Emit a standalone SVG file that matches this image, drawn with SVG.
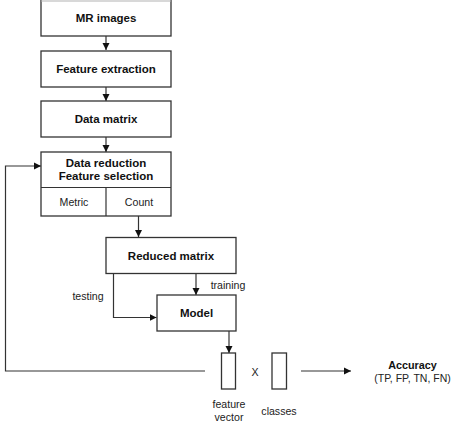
<svg xmlns="http://www.w3.org/2000/svg" width="474" height="423" viewBox="0 0 474 423">
<defs>
<style>
.box{fill:#fff;stroke:#333;stroke-width:1.3}
.ln{fill:none;stroke:#333;stroke-width:1.2}
.b{font-family:"Liberation Sans",Arial,Helvetica,sans-serif;font-weight:bold;font-size:11.5px;fill:#111;text-anchor:middle}
.n{font-family:"Liberation Sans",Arial,Helvetica,sans-serif;font-size:10.6px;fill:#222;text-anchor:middle}
</style>
<marker id="ah" markerWidth="8" markerHeight="8" refX="7" refY="4" orient="auto" markerUnits="userSpaceOnUse">
<path d="M0,0.5 L7,4 L0,7.5 Z" fill="#111"/>
</marker>
</defs>
<rect width="474" height="423" fill="#fff"/>
<g id="connectors">
<line class="ln" x1="106" y1="36" x2="106" y2="50" marker-end="url(#ah)"/>
<line class="ln" x1="106" y1="87" x2="106" y2="101" marker-end="url(#ah)"/>
<line class="ln" x1="106" y1="137" x2="106" y2="152" marker-end="url(#ah)"/>
<line class="ln" x1="138.5" y1="216" x2="138.5" y2="237" marker-end="url(#ah)"/>
<line class="ln" x1="196" y1="273" x2="196" y2="295" marker-end="url(#ah)"/>
<polyline class="ln" points="113.5,273 113.5,317.5 156.5,317.5" marker-end="url(#ah)"/>
<line class="ln" x1="229" y1="331" x2="229" y2="353" marker-end="url(#ah)"/>
<line class="ln" x1="301" y1="371" x2="351" y2="371" marker-end="url(#ah)"/>
<polyline class="ln" points="205,371 5.5,371 5.5,166 41,166" marker-end="url(#ah)"/>
</g>
<g id="mr-images">
<rect class="box" x="41" y="-2" width="130" height="38"/>
<rect x="41.7" y="0" width="128.6" height="2" fill="#d8d8d8"/>
<text class="b" x="106" y="22">MR images</text>
</g>
<g id="feature-extraction">
<rect class="box" x="41" y="51" width="130" height="36"/>
<text class="b" x="106" y="73">Feature extraction</text>
</g>
<g id="data-matrix">
<rect class="box" x="41" y="101" width="130" height="36"/>
<text class="b" x="106" y="123">Data matrix</text>
</g>
<g id="data-reduction">
<rect class="box" x="41" y="152" width="130" height="64"/>
<line class="ln" x1="41" y1="187.5" x2="171" y2="187.5"/>
<line class="ln" x1="106" y1="187.5" x2="106" y2="216"/>
<text class="b" x="106" y="166.5">Data reduction</text>
<text class="b" x="106" y="179.5">Feature selection</text>
<text class="n" x="74" y="205.5">Metric</text>
<text class="n" x="139" y="205.5">Count</text>
</g>
<g id="reduced-matrix">
<rect class="box" x="106" y="237.5" width="130" height="36"/>
<text class="b" x="171" y="259.5">Reduced matrix</text>
</g>
<g id="model">
<rect class="box" x="157" y="295" width="79" height="36"/>
<text class="b" x="196.5" y="317">Model</text>
</g>
<g id="labels">
<text class="n" x="228" y="289">training</text>
<text class="n" x="88" y="300">testing</text>
</g>
<g id="feature-vector">
<rect class="box" x="221.5" y="353" width="14" height="36"/>
<text class="n" x="229" y="408">feature</text>
<text class="n" x="229" y="421">vector</text>
</g>
<g id="times">
<text class="n" x="255" y="375.5">X</text>
</g>
<g id="classes">
<rect class="box" x="272" y="353" width="14.5" height="36"/>
<text class="n" x="279" y="415">classes</text>
</g>
<g id="accuracy">
<text class="b" x="412.5" y="369" style="font-size:10.8px">Accuracy</text>
<text class="n" x="412.5" y="382" style="font-size:10.5px">(TP, FP, TN, FN)</text>
</g>
</svg>
